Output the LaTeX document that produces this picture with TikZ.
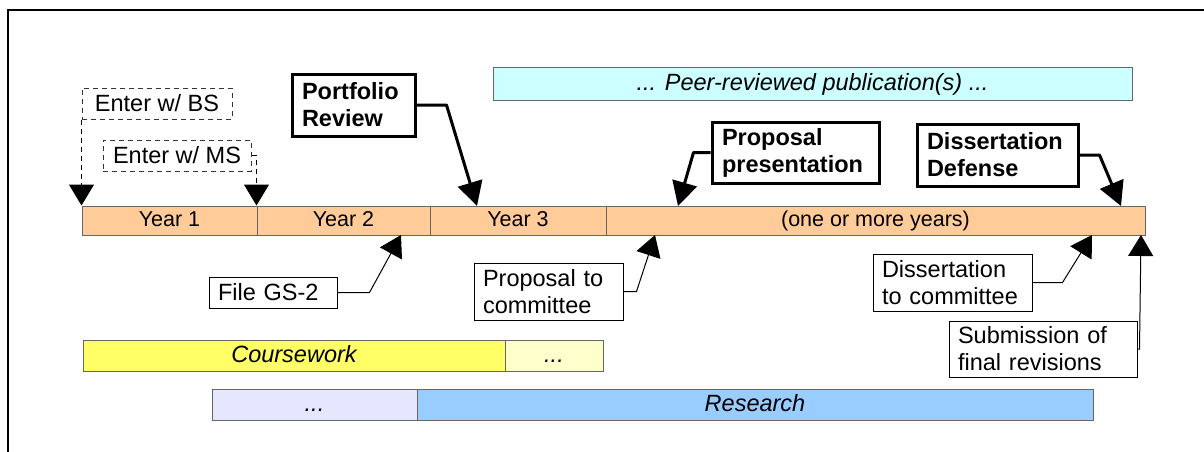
\documentclass[tikz,border=0pt]{standalone}
\usepackage{fontspec}
\setmainfont{Liberation Sans}
\usepackage{tikz}
\usetikzlibrary{arrows.meta}
\definecolor{naranja}{HTML}{FFCC99}
\definecolor{amarillo}{HTML}{FFFF66}
\definecolor{amarilloclaro}{HTML}{FFFFCC}
\definecolor{lavanda}{HTML}{E6E6FF}
\definecolor{celeste}{HTML}{99CCFF}
\definecolor{cian}{HTML}{CCFFFF}
\tikzstyle{anio}=[draw=black!60, line width=1pt, fill=naranja, minimum height=29pt, inner sep=0pt, text height=15pt, text depth=4pt, font=\fontsize{21.5}{25}\selectfont]
\tikzstyle{barra}=[draw=black!60, line width=1pt, minimum height=31pt, inner sep=0pt, text height=17pt, text depth=5pt, font=\fontsize{23.5}{27}\selectfont\itshape]
\tikzstyle{nota}=[draw, line width=1pt, align=left, inner xsep=9pt, inner ysep=0pt, font=\fontsize{23.5}{27}\selectfont]
\tikzstyle{hito}=[draw, line width=3pt, align=left, inner xsep=10pt, inner ysep=0pt, font=\fontsize{23.5}{27}\selectfont\bfseries]
\tikzstyle{entrada}=[draw=black!80, line width=1pt, dash pattern=on 5pt off 4pt, inner sep=0pt, minimum height=31pt, font=\fontsize{23.5}{27}\selectfont]
\tikzstyle{flecha}=[line width=1pt, -{Triangle[width=25pt,length=21pt]}]
\tikzstyle{flechagruesa}=[line width=3pt, line join=round, -{Triangle[width=25pt,length=24pt]}]

\begin{document}
\begin{tikzpicture}[x=1pt,y=-1pt]
            \useasboundingbox (0,0) rectangle (1204,452);
            % Marco
            \draw[line width=1.5pt] (8,452) -- (8,10) -- (1204,10);
            % Barra de años
            \node[anio, minimum width=175pt] (y1) at (169.5,220.5) {Year 1};
            \node[anio, minimum width=173pt] (y2) at (343.5,220.5) {Year 2};
            \node[anio, minimum width=176pt] (y3) at (518,220.5) {Year 3};
            \node[anio, minimum width=539pt] (y4) at (875.5,220.5) {(one or more years)};
            % Barras de actividades
            \node[barra, fill=cian, minimum width=639pt, minimum height=32pt] (pub) at (812.5,84) {... Peer-reviewed publication(s) ...};
            \node[barra, fill=amarillo, minimum width=422pt] (cw) at (294,356) {Coursework};
            \node[barra, fill=amarilloclaro, minimum width=98pt] (cw2) at (554,356) {...};
            \node[barra, fill=lavanda, minimum width=205pt] (rs2) at (314.5,405) {...};
            \node[barra, fill=celeste, minimum width=676pt] (rs) at (755,405) {Research};
            % Entradas
            \node[entrada, minimum width=150pt] (bs) at (157,103.5) {Enter w/ BS};
            \node[entrada, minimum width=148pt] (ms) at (177,155.5) {Enter w/ MS};
            % Hitos
            \node[hito, text width=103pt, minimum height=62pt] (pr) at (353.5,105) {Portfolio\\Review};
            \node[hito, text width=147pt, minimum height=61pt] (pp) at (795.5,152.5) {Proposal\\presentation};
            \node[hito, text width=141pt, minimum height=62pt] (dd) at (997.5,155) {Dissertation\\Defense};
            % Notas
            \node[nota, text width=110pt, minimum height=31pt] (gs) at (273,292.5) {File GS-2};
            \node[nota, text width=131pt, minimum height=57pt] (pc) at (548.5,291.5) {Proposal to\\committee};
            \node[nota, text width=141pt, minimum height=57pt] (dc) at (952.5,282.5) {Dissertation\\to committee};
            \node[nota, text width=170pt, minimum height=56pt] (sf) at (1043,349) {Submission of\\final revisions};
            % Puntas
            \coordinate (prtip) at (477,206);
            \coordinate (pptip) at (678,206);
            \coordinate (ddtip) at (1121,206);
            \coordinate (gstip) at (401,235);
            \coordinate (pctip) at (655,235);
            \coordinate (dctip) at (1092,235);
            \coordinate (sftip) at (1141,235);
            % Flechas
            \draw[flecha, dash pattern=on 5pt off 4pt] (bs.south west) -- (y1.north west);
            \draw[flecha, dash pattern=on 5pt off 4pt] (ms.east) -| (y2.north west);
            \draw[flechagruesa] (pr.east) -- ++(30,0) -- (prtip);
            \draw[flechagruesa] (pp.west) -- ++(-17,0) -- (pptip);
            \draw[flechagruesa] (dd.east) -- ++(20,0) -- (ddtip);
            \draw[flecha] (gs.east) -- ++(32,0) -- (gstip);
            \draw[flecha] (pc.east) -- ++(13,0) -- (pctip);
            \draw[flecha] (dc.east) -- ++(30,0) -- (dctip);
            \draw[flecha] (sf.east) -- ++(2,0) -- (sftip);
        \end{tikzpicture}
\end{document}
